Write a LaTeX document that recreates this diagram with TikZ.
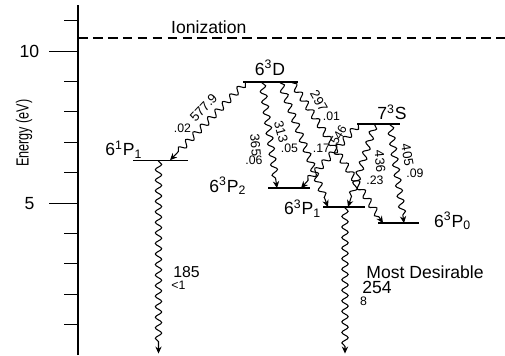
\documentclass[tikz,border=0pt]{standalone}
\usepackage{fontspec}
\setmainfont{Liberation Sans}
\usepackage{tikz}
\usetikzlibrary{arrows.meta, decorations.pathmorphing}
\usetikzlibrary{calc,positioning}

\tikzset{
  wavy/.style={semithick, -{Stealth[length=4pt,width=3.6pt]},
    decorate, decoration={snake, amplitude=1.8pt, segment length=6pt,
      pre length=0.5pt, post length=4pt}},
  levelline/.style={thick},
  wlabel/.style={font=\fontsize{7.5}{9}\selectfont, inner sep=0.5pt},
  plabel/.style={font=\scriptsize, inner sep=0.5pt},
}

\begin{document}
\begin{tikzpicture}[x=1cm, y=0.608cm]

    \useasboundingbox (0,0) rectangle (10.1,11.68);

    % Energy axis
    \draw[thick] (1.56,0) -- (1.56,11.51);

    \foreach \e in {1,...,11} {
        \draw[semithick] (1.28,\e) -- (1.56,\e);
    }
    \foreach \e in {5,10} {
        \draw[semithick] (0.98,\e) -- (1.56,\e);
        \node (tick\e) at (0.59,\e) {\e};
    }

    \node[rotate=90] (elabel) at (0.48,7.3) {\scalebox{0.72}[1]{Energy (eV)}};

    % Ionization
    \draw[semithick, dash pattern=on 5.5pt off 3pt] (1.56,10.43) -- (10.1,10.43);
    \node[anchor=base west] (ion) at (3.3,10.59) {Ionization};

    % Levels
    \draw[levelline] (2.66,6.41) -- (3.76,6.41);
    \draw[levelline] (4.86,8.98) -- (5.96,8.98);
    \draw[levelline] (7.14,7.60) -- (8.00,7.60);
    \draw[levelline] (5.36,5.49) -- (6.20,5.49);
    \draw[levelline] (6.46,4.87) -- (7.30,4.87);
    \draw[levelline] (7.56,4.34) -- (8.38,4.34);

    \node[anchor=base east] (lP1s) at (2.97,6.55) {6\textsuperscript{1}P\textsubscript{1}};
    \node[anchor=base] (lD) at (5.40,9.21) {6\textsuperscript{3}D};
    \node[anchor=base] (lS) at (7.84,7.74) {7\textsuperscript{3}S};
    \node[anchor=base east] (lP2) at (5.05,5.36) {6\textsuperscript{3}P\textsubscript{2}};
    \node[anchor=base west] (lP1) at (5.56,4.61) {6\textsuperscript{3}P\textsubscript{1}};
    \node[anchor=base west] (lP0) at (8.56,4.21) {6\textsuperscript{3}P\textsubscript{0}};

    % Ends of the transitions
    \coordinate (d1) at (4.92,8.98);
    \coordinate (d2) at (5.24,8.98);
    \coordinate (d3) at (5.60,8.98);
    \coordinate (d4) at (5.84,8.98);
    \coordinate (s1) at (7.18,7.60);
    \coordinate (s2) at (7.50,7.60);
    \coordinate (s3) at (7.80,7.60);
    \coordinate (p1a) at (3.40,6.41);
    \coordinate (p1b) at (3.17,6.41);
    \coordinate (p2a) at (5.54,5.49);
    \coordinate (p2b) at (6.02,5.49);
    \coordinate (q1a) at (6.56,4.87);
    \coordinate (q1b) at (6.96,4.87);
    \coordinate (q1c) at (6.90,4.87);
    \coordinate (q0a) at (7.66,4.34);
    \coordinate (q0b) at (8.08,4.34);
    \coordinate (g1) at (3.17,0.05);
    \coordinate (g2) at (6.90,0.05);

    % Transitions
    \draw[wavy] (d1) -- (p1a);
    \draw[wavy] (d2) -- (p2a);
    \draw[wavy] (d3) -- (q1a);
    \draw[wavy] (d4) -- (q0a);
    \draw[wavy] (s1) -- (p2b);
    \draw[wavy] (s2) -- (q1b);
    \draw[wavy] (s3) -- (q0b);
    \draw[wavy] (p1b) -- (g1);
    \draw[wavy] (q1c) -- (g2);

    % Wavelengths and fractions
    \node[wlabel, rotate=47] (w578) at (4.07,8.14) {577.9};
    \node[plabel] (f578) at (3.65,7.47) {.02};
    \node[wlabel, rotate=-85] (w365) at (5.11,6.91) {365};
    \node[plabel] (f365) at (5.08,6.41) {.06};
    \node[wlabel, rotate=-75] (w313) at (5.62,7.34) {313};
    \node[plabel] (f313) at (5.79,6.81) {.05};
    \node[wlabel, rotate=-60] (w297) at (6.38,8.36) {297};
    \node[plabel] (f297) at (6.63,7.85) {.01};
    \node[wlabel, font=\fontsize{7}{8}\selectfont, rotate=60] (w546) at (6.77,7.24) {546};
    \node[plabel] (f546) at (6.43,6.79) {.17};
    \node[wlabel, rotate=-85] (w436) at (7.60,6.37) {436};
    \node[plabel] (f436) at (7.50,5.76) {.23};
    \node[wlabel, rotate=-80] (w405) at (8.15,6.58) {405};
    \node[plabel] (f405) at (8.30,5.97) {.09};

    \node[font=\small] (w185) at (3.73,2.73) {185};
    \node[font=\scriptsize] (f185) at (3.57,2.29) {<1};
    \node (best) at (8.50,2.71) {Most Desirable};
    \node (w254) at (7.54,2.22) {254};
    \node[font=\scriptsize] (f254) at (7.27,1.76) {8};

\end{tikzpicture}
\end{document}
